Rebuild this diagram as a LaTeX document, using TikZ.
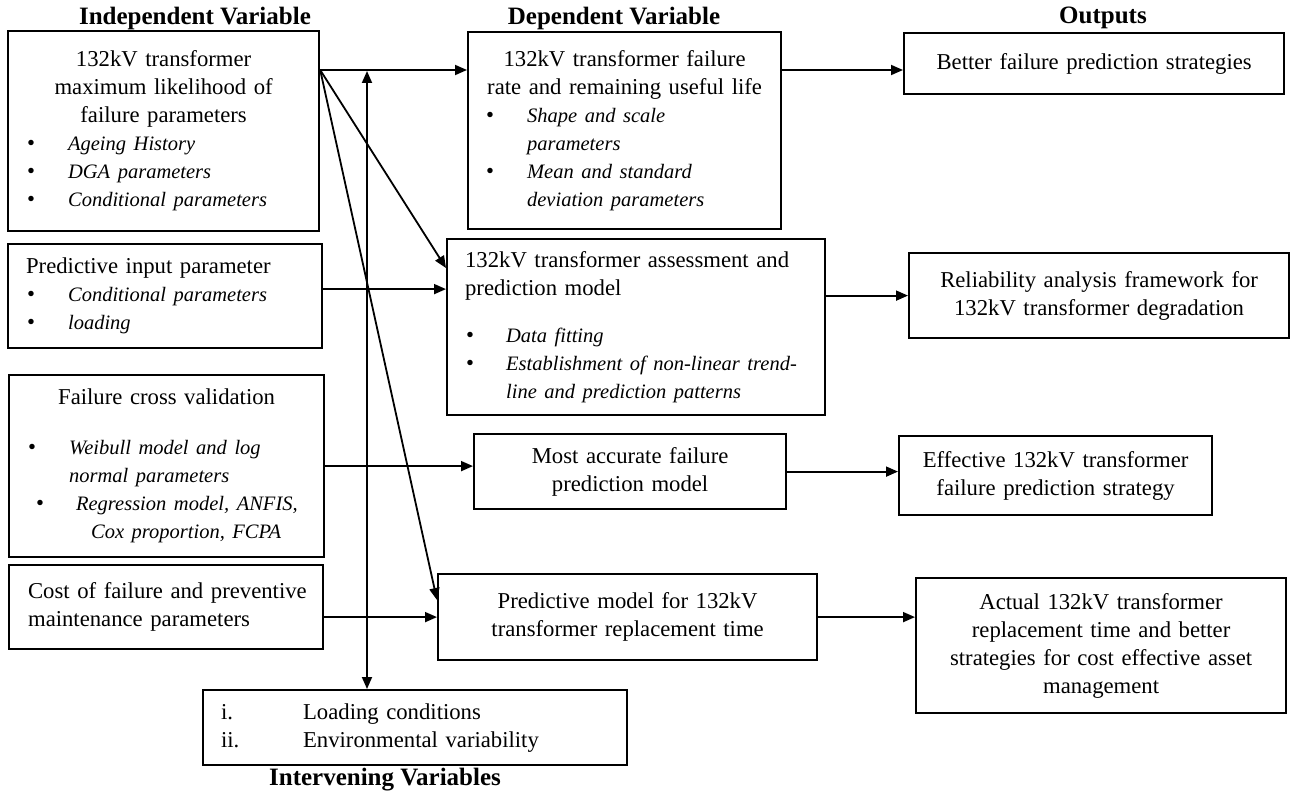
\documentclass[tikz,border=0pt]{standalone}
\usepackage{fontspec}
\setmainfont{Liberation Serif}
\usetikzlibrary{arrows.meta,positioning}
\newcommand{\itsz}{\fontsize{20.5}{28}\selectfont\itshape}
\newcommand{\bitem}[3]{\hspace*{#1}\makebox[#2][l]{\textbullet}{\itsz #3}}
\newcommand{\cont}[2]{\hspace*{#1}{\itsz #2}}

\begin{document}
\begin{tikzpicture}[x=1pt, y=-1pt,
  every node/.style={font=\fontsize{22.7}{28}\selectfont},
  box/.style={draw, line width=2.2pt, inner sep=0pt, anchor=north west},
  sz/.style n args={3}{minimum width=#1, text width=#1, minimum height=#2, align=#3},
  head/.style={font=\fontsize{25}{30}\selectfont\bfseries, inner sep=0pt},
  arr/.style={-{Triangle[length=12pt,width=10pt]}, line width=1.8pt},
  arrboth/.style={{Triangle[length=12pt,width=10pt]}-{Triangle[length=12pt,width=10pt]}, line width=1.8pt}]
\useasboundingbox (0,0) rectangle (1296,797);

\node[head] (hInd) at (195,18) {Independent Variable};
\node[head] (hDep) at (614,18) {Dependent Variable};
\node[head] (hOut) at (1103,18) {Outputs};
\node[head] (hIv) at (385,780) {Intervening Variables};

\node[box, sz={311pt}{200pt}{left}] (ind1) at (7,30) {\makebox[311pt]{132kV transformer}\\
  \makebox[311pt]{maximum likelihood of}\\ \makebox[311pt]{failure parameters}\\
  \bitem{19pt}{41pt}{Ageing History}\\ \bitem{19pt}{41pt}{DGA parameters}\\
  \bitem{19pt}{41pt}{Conditional parameters}};
\node[box, sz={314pt}{104pt}{left}] (ind2) at (7,243) {\hspace*{18pt}Predictive input parameter\\
  \bitem{19pt}{41pt}{Conditional parameters}\\ \bitem{19pt}{41pt}{loading}};
\node[box, sz={315pt}{182pt}{left}] (ind3) at (8,374) {\makebox[315pt]{Failure cross validation}\\[22pt]
  \bitem{19pt}{41pt}{Weibull model and log}\\ \cont{60pt}{normal parameters}\\
  \bitem{27pt}{40pt}{Regression model, ANFIS,}\\ \cont{82pt}{Cox proportion, FCPA}};
\node[box, sz={314pt}{84pt}{left}] (ind4) at (8,564) {\hspace*{19pt}Cost of failure and preventive\\
  \hspace*{19pt}maintenance parameters};

\node[box, sz={313pt}{197pt}{left}] (dep1) at (467,31) {\makebox[313pt]{132kV transformer failure}\\
  \makebox[313pt]{rate and remaining useful life}\\
  \bitem{18pt}{41pt}{Shape and scale}\\ \cont{59pt}{parameters}\\
  \bitem{18pt}{41pt}{Mean and standard}\\ \cont{59pt}{deviation parameters}};
\node[box, sz={378pt}{176pt}{left}] (dep2) at (446,238) {\hspace*{18pt}132kV transformer assessment and\\
  \hspace*{18pt}prediction model\\[19pt]
  \bitem{19pt}{40pt}{Data fitting}\\ \bitem{19pt}{40pt}{Establishment of non-linear trend-}\\
  \cont{59pt}{line and prediction patterns}};
\node[box, sz={312pt}{75pt}{center}] (dep3) at (473,433) {Most accurate failure\\ prediction model};
\node[box, sz={379pt}{86pt}{center}] (dep4) at (437,573) {Predictive model for 132kV\\ transformer replacement time};

\node[box, sz={380pt}{61pt}{center}] (out1) at (903,32) {Better failure prediction strategies};
\node[box, sz={380pt}{85pt}{center}] (out2) at (908,252) {Reliability analysis framework for\\ 132kV transformer degradation};
\node[box, sz={313pt}{79pt}{center}] (out3) at (898,435) {Effective 132kV transformer\\ failure prediction strategy};
\node[box, sz={370pt}{135pt}{center}] (out4) at (915,577) {Actual 132kV transformer\\ replacement time and better\\
  strategies for cost effective asset\\ management};

\node[box, sz={424pt}{75pt}{left}] (iv) at (202,689) {\hspace*{18pt}\makebox[82pt][l]{i.}Loading conditions\\
  \hspace*{18pt}\makebox[82pt][l]{ii.}Environmental variability};

\coordinate (src) at ([yshift=-40pt]ind1.north east);
\coordinate (meet) at (367,71);

\draw[arr] (src) -- (src -| dep1.west);
\draw[arr] (dep1.east |- src) -- (out1.west |- src);
\draw[arr] (src) -- ([yshift=-30pt]dep2.north west);
\draw[arr] (src) -- ([yshift=-27pt]dep4.north west);
\draw[arr] ([yshift=7pt]ind2.east) -- ([yshift=7pt]ind2.east -| dep2.west);
\draw[arr] (dep2.east |- out2.west) -- (out2.west);
\draw[arr] (ind3.east) -- (ind3.east -| dep3.west);
\draw[arr] (dep3.east) -- (dep3.east -| out3.west);
\draw[arr] (ind4.east |- dep4.west) -- (dep4.west);
\draw[arr] (dep4.east) -- (dep4.east -| out4.west);
\draw[arrboth] (meet) -- (meet |- iv.north);
\end{tikzpicture}
\end{document}
